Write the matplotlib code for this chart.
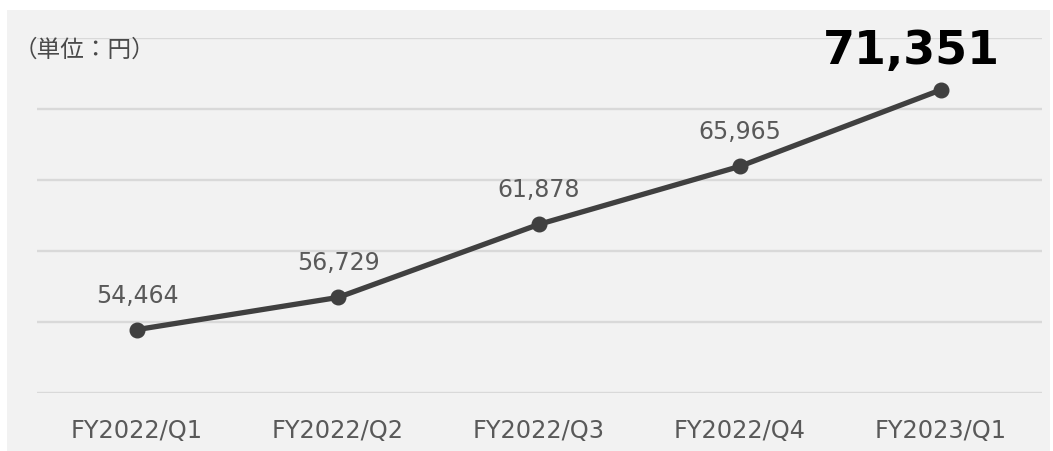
import matplotlib
matplotlib.use("Agg")
import matplotlib.pyplot as plt
from matplotlib.patches import Rectangle

categories = ["FY2022/Q1", "FY2022/Q2", "FY2022/Q3", "FY2022/Q4", "FY2023/Q1"]
values = [54464, 56729, 61878, 65965, 71351]
labels = ["54,464", "56,729", "61,878", "65,965", "71,351"]
y_ticks = [50000, 55000, 60000, 65000, 70000, 75000]

plt.rcParams['font.family'] = ['DejaVu Sans', 'Noto Sans CJK JP']

W, H = 1053, 451
fig = plt.figure(figsize=(W / 100, H / 100), dpi=100)
fig.patch.set_facecolor("white")
bg = "#f2f2f2"
fig.patches.append(Rectangle((7 / W, 0), (1050 - 7) / W, (H - 10) / H,
                             transform=fig.transFigure, facecolor=bg,
                             edgecolor="none", zorder=-10))

ax = fig.add_axes([36.5 / W, 58 / H, (1041.5 - 36.5) / W, (393 - 38) / H])
ax.set_zorder(2)
ax.set_facecolor(bg)
x = list(range(len(categories)))
ax.plot(x, values, color="#404040", linewidth=3.8, marker="o",
        markersize=10.5, zorder=3, solid_capstyle="round")
ax.set_xlim(-0.5, len(categories) - 0.5)
ax.set_ylim(y_ticks[0], y_ticks[-1])
ax.set_yticks(y_ticks)
ax.yaxis.grid(True, color="#d9d9d9", linewidth=1.7)
ax.set_axisbelow(True)
ax.tick_params(axis="y", left=False, labelleft=False)
ax.tick_params(axis="x", bottom=False, pad=15, labelsize=17.3, labelcolor="#595959")
ax.set_xticks(x)
ax.set_xticklabels(categories)
for s in ax.spines.values():
    s.set_visible(False)

for i, (v, lab) in enumerate(zip(values, labels)):
    if i == len(values) - 1:
        ax.annotate(lab, (i, v), xytext=(-30, 16), textcoords="offset pixels",
                    ha="center", va="bottom", fontsize=33, fontweight="bold",
                    color="black", annotation_clip=False)
    else:
        ax.annotate(lab, (i, v), xytext=(0, 27), textcoords="offset pixels",
                    ha="center", va="baseline", fontsize=17, color="#595959")

fig.text(14 / W, 1 - 50 / H, "（単位：円）", ha="left", va="center",
         fontsize=17, color="#4a4a4a", family=["Noto Sans CJK JP", "DejaVu Sans"],
         zorder=5)

fig.savefig("out.png", dpi=100, facecolor="white")
